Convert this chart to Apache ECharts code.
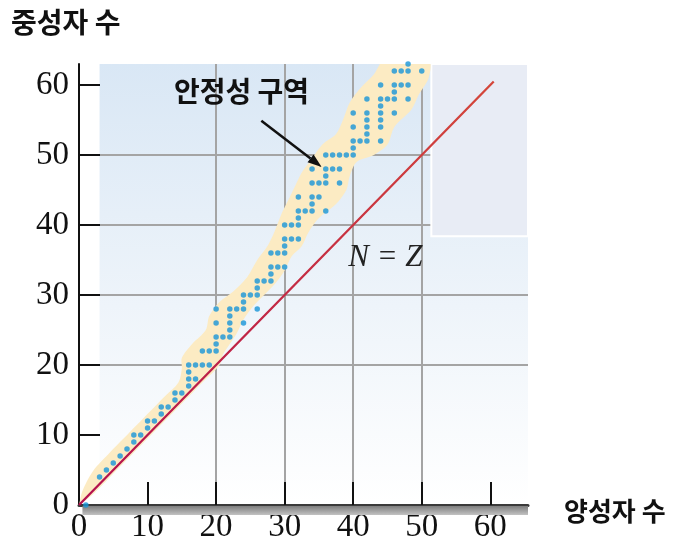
<!DOCTYPE html>
<html>
<head>
<meta charset="utf-8">
<script src="https://cdn.jsdelivr.net/npm/echarts@6/dist/echarts.min.js"></script>
<style>
  html, body { margin: 0; padding: 0; background: #ffffff; }
  #chart { width: 681px; height: 546px; }
</style>
</head>
<body>
<div id="chart"></div>
<script>
// Tick values on both axes
const protonTicks = [0, 10, 20, 30, 40, 50, 60];
const neutronTicks = [0, 10, 20, 30, 40, 50, 60];

// Stable nuclides: proton number Z and neutron number N (paired by index)
const stableZ = [
  1, 3, 4, 5, 6, 7, 8, 8, 9, 10, 10, 11, 12, 12, 13, 14, 14, 15,
  16, 16, 16, 16, 17, 17, 18, 18, 19, 19,
  20, 20, 20, 20, 20, 21, 22, 22, 22, 22, 22, 23,
  24, 24, 24, 24, 25, 26, 26, 26, 26, 27,
  28, 28, 28, 28, 29, 29, 30, 30, 30, 30, 30,
  31, 31, 32, 32, 32, 32, 32, 33, 34, 34, 34, 34, 34,
  35, 35, 36, 36, 36, 36, 36, 37, 37, 38, 38, 38, 39,
  40, 40, 40, 40, 40, 41, 42, 42, 42, 42, 42, 42,
  44, 44, 44, 44, 44, 44, 44, 45, 46, 46, 46, 46, 46,
  47, 47, 48, 48, 48, 48, 50
];
const stableN = [
  0, 4, 5, 6, 7, 8, 9, 10, 10, 11, 12, 12, 13, 14, 14, 15, 16, 16,
  17, 18, 19, 20, 18, 20, 20, 22, 20, 22,
  22, 23, 24, 26, 28, 24, 24, 25, 26, 27, 28, 28,
  26, 28, 29, 30, 30, 28, 30, 31, 32, 32,
  32, 33, 34, 36, 34, 36, 34, 36, 37, 38, 40,
  38, 40, 38, 40, 41, 42, 44, 42, 42, 43, 44, 46, 48,
  44, 46, 42, 46, 47, 48, 50, 48, 50, 46, 48, 50, 50,
  50, 51, 52, 54, 56, 52, 52, 53, 54, 55, 56, 58,
  52, 54, 55, 56, 57, 58, 60, 58, 56, 58, 59, 60, 62,
  60, 62, 58, 60, 62, 63, 62
];

// Outline of the stability band: upper-left edge (going up), lower-right edge (coming down)
const bandUpperEdge = [
  [0, 0], [0.5, 2], [2, 4.8], [4.5, 7.5], [6.5, 9.5], [8.5, 11.5], [10.5, 13.5],
  [12.5, 15.5], [14.5, 17.5], [15, 19.5], [15, 21], [16.5, 23], [18.5, 25],
  [19, 27], [20.5, 29], [22.5, 30.5], [24.5, 32.5], [26, 35], [27.5, 37],
  [28.5, 39], [29.5, 41.5], [30.5, 43.5], [31.5, 45.5], [32.5, 47.5], [34, 49.5],
  [35.5, 51.5], [37.5, 53], [38.5, 55], [39.5, 57.5], [41, 59.5], [43, 61.5], [44.5, 63.5]
];
const bandLowerEdge = [
  [51, 63.5], [51, 61], [49.5, 58.5], [48.5, 56.5], [46, 54], [45, 51.5], [43, 50],
  [40.5, 49], [39.5, 47], [39, 45], [37.5, 43], [35, 41], [33.5, 39], [32.5, 37],
  [31, 35.5], [30, 33.5], [28.5, 31.5], [27, 30], [25.5, 28.5], [24, 26.5],
  [23, 24.5], [22, 23], [21, 21.5], [20.5, 20], [18, 17.5], [16, 15.5],
  [13, 12.5], [10, 9.5], [6, 5.5], [2, 1.5], [0, 0]
];

// The N = Z reference line
const equalLine = [[0, 0], [60.5, 60.5]];

// Annotation anchors in (Z, N) units
const bandLabelAt = [23.7, 59.1];
const arrowFrom = [26.6, 54.9];
const arrowTo = [35.4, 48.3];
const lineLabelAt = [44.7, 35.3];
const shadedStartZ = 3.0;
const insetBox = { z0: 51.4, n0: 38.4 };

const X_MAX = 65.5;
const Y_MAX = 63;

const chart = echarts.init(document.getElementById('chart'), null, { renderer: 'canvas' });

const dots = stableZ.map((z, i) => [z, stableN[i]]);
const bandPolygon = bandUpperEdge.concat(bandLowerEdge);

const serif = 'Liberation Serif, Times New Roman, serif';
const cjk = 'Noto Sans CJK KR, sans-serif';

chart.setOption({
  animation: false,
  backgroundColor: '#ffffff',
  grid: { left: 79, right: 153, top: 64, bottom: 41, containLabel: false },
  xAxis: {
    type: 'value', min: 0, max: X_MAX, interval: 10,
    axisLine: { show: true, onZero: false, lineStyle: { color: '#3a3a3a', width: 3 } },
    axisTick: { show: true, inside: true, length: 23, customValues: protonTicks.slice(1),
                lineStyle: { color: '#111111', width: 2 } },
    axisLabel: { show: true, customValues: protonTicks, margin: 6, color: '#111111',
                 fontFamily: serif, fontSize: 33 },
    splitLine: { show: true, showMinLine: false, showMaxLine: false,
                 lineStyle: { color: '#a4a4a4', width: 2 } }
  },
  yAxis: {
    type: 'value', min: 0, max: Y_MAX, interval: 10,
    axisLine: { show: true, onZero: false, lineStyle: { color: '#111111', width: 2 } },
    axisTick: { show: true, inside: true, length: 21, customValues: neutronTicks.slice(1),
                lineStyle: { color: '#111111', width: 2 } },
    axisLabel: { show: true, customValues: neutronTicks, margin: 10, color: '#111111',
                 fontFamily: serif, fontSize: 33 },
    splitLine: { show: true, showMinLine: false, showMaxLine: false,
                 lineStyle: { color: '#a4a4a4', width: 2 } }
  },
  series: [
    {
      type: 'custom',
      name: 'band',
      coordinateSystem: 'cartesian2d',
      clip: true,
      silent: true,
      z: 2,
      data: [[0, 0]],
      renderItem: function (params, api) {
        return {
          type: 'polygon',
          shape: { points: bandPolygon.map(p => api.coord(p)), smooth: 0.3 },
          style: { fill: '#fcebc3' }
        };
      }
    },
    {
      type: 'scatter',
      name: 'stable',
      data: dots,
      symbol: 'circle',
      symbolSize: 5.5,
      clip: false,
      z: 4,
      itemStyle: { color: '#1795d8' }
    },
    {
      type: 'line',
      name: 'N=Z',
      data: equalLine,
      showSymbol: false,
      z: 5,
      lineStyle: {
        width: 2.3,
        color: new echarts.graphic.LinearGradient(0, 1, 1, 0, [
          { offset: 0, color: '#b30f4e' },
          { offset: 1, color: '#d4473a' }
        ])
      }
    }
  ]
});

function px(p) { return chart.convertToPixel({ gridIndex: 0 }, p); }

const bgTL = px([shadedStartZ, Y_MAX]);
const bgBR = px([X_MAX, 0]);
const boxTL = px([insetBox.z0, Y_MAX]);
const boxBR = px([X_MAX, insetBox.n0]);
const shadowStart = px([0.5, 0]);
const a0 = px(arrowFrom);
const a1 = px(arrowTo);
const lb = px(bandLabelAt);
const ll = px(lineLabelAt);

// Arrow head geometry
const ang = Math.atan2(a1[1] - a0[1], a1[0] - a0[0]);
const headLen = 14, headHalf = 5;
const hx = a1[0] - headLen * Math.cos(ang), hy = a1[1] - headLen * Math.sin(ang);
const nx = -Math.sin(ang), ny = Math.cos(ang);

chart.setOption({
  graphic: [
    {
      type: 'rect', z: -10, silent: true,
      shape: { x: bgTL[0], y: bgTL[1], width: bgBR[0] - bgTL[0], height: bgBR[1] - bgTL[1] },
      style: {
        fill: new echarts.graphic.LinearGradient(0, 0, 0, 1, [
          { offset: 0, color: '#d9e7f5' },
          { offset: 0.55, color: '#eef4fa' },
          { offset: 1, color: '#ffffff' }
        ])
      }
    },
    {
      type: 'rect', z: 1, silent: true,
      shape: { x: boxTL[0], y: boxTL[1], width: boxBR[0] - boxTL[0], height: boxBR[1] - boxTL[1] },
      style: { fill: '#e8ecf5', stroke: '#ffffff', lineWidth: 2 }
    },
    {
      type: 'rect', z: 1, silent: true,
      shape: { x: shadowStart[0], y: bgBR[1] + 1, width: bgBR[0] - shadowStart[0], height: 9 },
      style: {
        fill: new echarts.graphic.LinearGradient(0, 0, 0, 1, [
          { offset: 0, color: '#7e7e7e' },
          { offset: 1, color: '#c2c2c2' }
        ])
      }
    },
    {
      type: 'line', z: 10, silent: true,
      shape: { x1: a0[0], y1: a0[1], x2: hx, y2: hy },
      style: { stroke: '#111111', lineWidth: 2.5 }
    },
    {
      type: 'polygon', z: 10, silent: true,
      shape: { points: [[a1[0], a1[1]], [hx + nx * headHalf, hy + ny * headHalf], [hx - nx * headHalf, hy - ny * headHalf]] },
      style: { fill: '#111111' }
    },
    {
      type: 'text', z: 10, silent: true,
      x: lb[0], y: lb[1],
      style: { text: '안정성 구역', fill: '#111111', font: 'bold 28px ' + cjk, align: 'center', verticalAlign: 'middle' }
    },
    {
      type: 'text', z: 10, silent: true,
      x: ll[0], y: ll[1],
      style: { text: 'N = Z', fill: '#222222', font: 'italic 31px ' + serif, align: 'center', verticalAlign: 'middle' }
    },
    {
      type: 'text', z: 10, silent: true,
      x: 11, y: 22,
      style: { text: '중성자 수', fill: '#111111', font: 'bold 28px ' + cjk, align: 'left', verticalAlign: 'middle' }
    },
    {
      type: 'text', z: 10, silent: true,
      x: 564, y: 511,
      style: { text: '양성자 수', fill: '#111111', font: 'bold 26px ' + cjk, align: 'left', verticalAlign: 'middle' }
    }
  ]
});
</script>
</body>
</html>
